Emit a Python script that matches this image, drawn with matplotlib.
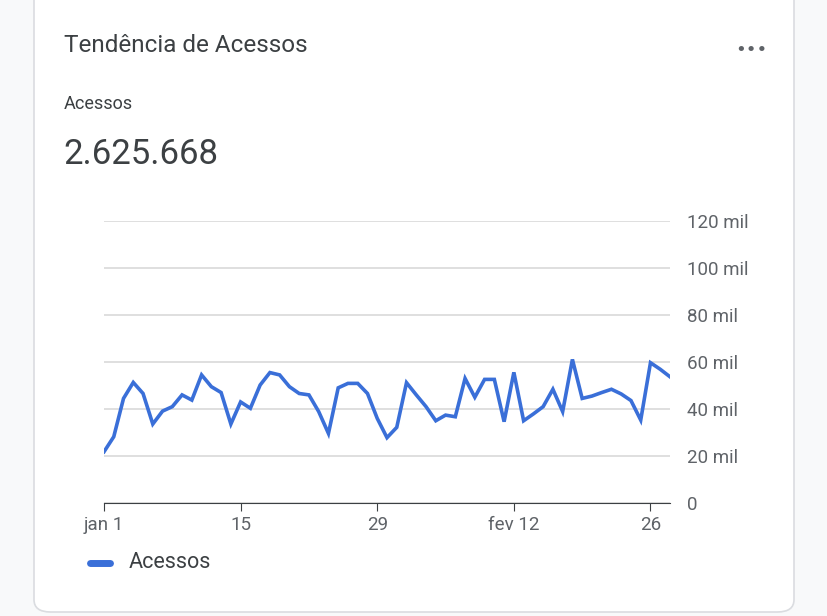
import matplotlib
matplotlib.use("Agg")
import matplotlib.pyplot as plt
from matplotlib.patches import FancyBboxPatch
from matplotlib.lines import Line2D

values = [21.8, 28.2, 44.5, 51.3, 46.6, 33.6, 39.1, 41, 46, 43.8, 54.5, 49.5, 47, 33.6, 43, 40.3,
          50.2, 55.5, 54.5, 49.5, 46.6, 46, 38.9, 29.6, 49, 50.9, 50.9, 46.6, 36, 27.8, 32.2, 51.2,
          46, 41, 35, 37.4, 36.7, 53, 45, 52.6, 52.6, 34.6, 55.6, 35, 37.9, 41, 48.4, 38.9, 61.1,
          44.5, 45.5, 47, 48.4, 46.4, 43.6, 35.3, 59.7, 56.9, 53.7]
x_tick_pos = [0, 14, 28, 42, 56]
x_tick_labels = ["jan 1", "15", "29", "fev 12", "26"]
y_ticks = [0, 20, 40, 60, 80, 100, 120]
y_labels = ["0", "20 mil", "40 mil", "60 mil", "80 mil", "100 mil", "120 mil"]

W, H = 828, 616
fig = plt.figure(figsize=(W/100, H/100), dpi=100)
fig.patch.set_facecolor("#f8f9fa")
card = FancyBboxPatch((34/W, 4/H), (794-34)/W, (640-4)/H, boxstyle="round,pad=0,rounding_size=0.02",
                      transform=fig.transFigure, facecolor="white", edgecolor="#dadce0", lw=1.2, zorder=-5)
fig.patches.append(card)
fig.text(64/W, 1-45/H, "Tendência de Acessos", fontsize=17.5, color="#3c4043", va="center", family="Roboto")
fig.text(735/W, 1-50/H, "•••", fontsize=13, color="#5f6368", va="center", family="DejaVu Sans")
fig.text(64/W, 1-104/H, "Acessos", fontsize=13, color="#3c4043", va="center", family="Roboto")
fig.text(63/W, 1-154/H, "2.625.668", fontsize=25, color="#3c4043", va="center", family="Roboto")

ax = fig.add_axes([104/W, 1-503/H, (670-104)/W, (503-221)/H], zorder=2)
ax.patch.set_visible(False)
ax.plot(range(len(values)), values, color="#3a6fd8", lw=2.6, solid_joinstyle="miter")
ax.set_xlim(0, len(values)-1)
ax.set_ylim(0, 120)
ax.yaxis.tick_right()
ax.set_yticks(y_ticks)
ax.set_yticklabels(y_labels, fontsize=13.5, color="#5f6368", family="Roboto")
ax.tick_params(axis="y", length=0, pad=12)
ax.set_xticks(x_tick_pos)
ax.set_xticklabels(x_tick_labels, fontsize=13.5, color="#5f6368", family="Roboto")
ax.tick_params(axis="x", length=6, color="#3c4043", pad=3)
ax.grid(axis="y", color="#d9d9d9", lw=1.2)
for s in ["top", "right", "left"]:
    ax.spines[s].set_visible(False)
ax.spines["bottom"].set_color("#3c4043")
ax.set_axisbelow(True)

fig.lines.append(Line2D([90/W, 110/W], [1-563/H]*2, transform=fig.transFigure, color="#3a6fd8", lw=5,
                        solid_capstyle="round"))
fig.text(129/W, 1-563/H, "Acessos", fontsize=15.5, color="#3c4043", va="center", family="Roboto")
fig.savefig("out.png", dpi=100, facecolor=fig.get_facecolor())
